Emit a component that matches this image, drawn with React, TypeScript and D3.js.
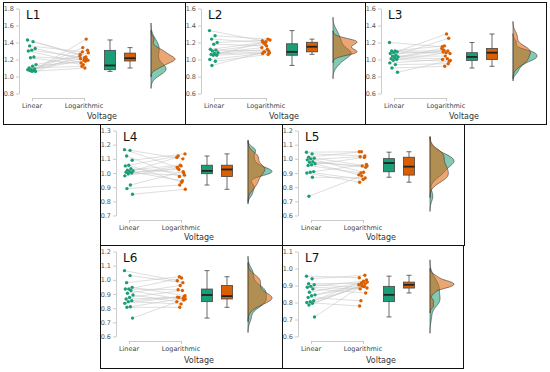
import React, { useRef, useEffect } from "react"
import * as d3 from "d3"

// panel names and the two conditions
const panelNames = ["L1", "L2", "L3", "L4", "L5", "L6", "L7"]
const groups = ["Linear", "Logarithmic"]

// paired measurements (linear[i] <-> logarithmic[i])
const linearL1 = [1.43, 1.41, 1.36, 1.33, 1.31, 1.30, 1.23, 1.22, 1.14, 1.12, 1.10, 1.09, 1.08, 1.08, 1.07, 1.07, 1.06, 1.06]
const logL1 = [1.26, 1.23, 1.29, 1.19, 1.22, 1.16, 1.20, 1.14, 1.24, 1.18, 1.12, 1.31, 1.19, 1.21, 1.44, 1.34, 1.28, 1.10]

const linearL2 = [1.34, 1.28, 1.24, 1.20, 1.18, 1.12, 1.11, 1.10, 1.08, 1.07, 1.06, 1.05, 1.05, 1.00, 0.98, 0.93]
const logL2 = [1.22, 1.24, 1.20, 1.23, 1.16, 1.20, 1.10, 1.18, 1.14, 1.12, 1.09, 1.08, 1.21, 1.07, 1.06, 1.09]

const linearL3 = [1.20, 1.10, 1.10, 1.09, 1.08, 1.07, 1.05, 1.04, 1.03, 1.02, 1.01, 1.00, 0.99, 0.96, 0.94, 0.90, 0.85]
const logL3 = [1.15, 1.10, 1.16, 1.07, 1.30, 1.09, 1.25, 1.04, 1.13, 1.01, 1.11, 0.98, 1.08, 1.00, 0.95, 0.92, 0.99]

const linearL4 = [1.165, 1.16, 1.12, 1.09, 1.055, 1.05, 1.03, 1.02, 1.015, 1.01, 1.005, 1.0, 0.995, 0.98, 0.915, 0.89, 0.85]
const logL4 = [1.04, 1.10, 0.975, 1.135, 0.935, 1.12, 1.00, 1.055, 1.11, 0.945, 1.025, 0.985, 1.05, 1.035, 1.01, 0.915, 0.885]

const linearL5 = [1.047, 1.035, 1.012, 1.005, 1.0, 0.993, 0.98, 0.976, 0.965, 0.958, 0.953, 0.91, 0.905, 0.90, 0.87, 0.736]
const logL5 = [1.05, 1.02, 1.05, 0.95, 0.905, 1.015, 0.94, 0.95, 0.887, 1.01, 0.90, 0.96, 0.855, 0.835, 0.865, 0.88]

const linearL6 = [1.065, 1.03, 0.98, 0.947, 0.935, 0.935, 0.925, 0.905, 0.893, 0.876, 0.865, 0.853, 0.846, 0.834, 0.81, 0.806, 0.73]
const logL6 = [0.994, 0.98, 1.022, 0.888, 1.013, 0.93, 0.858, 0.96, 0.846, 0.925, 0.876, 0.885, 0.83, 0.878, 0.87, 0.806, 0.865]

const linearL7 = [0.955, 0.94, 0.91, 0.905, 0.895, 0.89, 0.88, 0.86, 0.845, 0.84, 0.83, 0.81, 0.805, 0.80, 0.795, 0.785, 0.715]
const logL7 = [0.946, 0.96, 0.913, 0.885, 0.925, 0.88, 0.856, 0.917, 0.904, 0.894, 0.81, 0.933, 0.895, 0.779, 0.91, 0.90, 0.92]

const linearValues = [linearL1, linearL2, linearL3, linearL4, linearL5, linearL6, linearL7]
const logValues = [logL1, logL2, logL3, logL4, logL5, logL6, logL7]

// y axis tick labels per panel
const ticksL1 = [0.8, 1.0, 1.2, 1.4, 1.6, 1.8]
const ticksL2 = [0.6, 0.8, 1.0, 1.2, 1.4, 1.6]
const ticksL3 = [0.6, 0.8, 1.0, 1.2, 1.4, 1.6]
const ticksL4 = [0.7, 0.8, 0.9, 1.0, 1.1, 1.2, 1.3]
const ticksL5 = [0.6, 0.7, 0.8, 0.9, 1.0, 1.1, 1.2]
const ticksL6 = [0.6, 0.7, 0.8, 0.9, 1.0, 1.1, 1.2]
const ticksL7 = [0.6, 0.7, 0.8, 0.9, 1.0, 1.1]
const yTicks = [ticksL1, ticksL2, ticksL3, ticksL4, ticksL5, ticksL6, ticksL7]

// panel frames: x, y, width, height
const frames = [
    [3, 2, 182, 122], [185, 2, 180, 122], [365, 2, 181, 122],
    [100, 124, 182, 121], [282, 124, 182, 121],
    [100, 245, 182, 123], [282, 245, 181, 123]
]

const GREEN = "#1b9e77"
const ORANGE = "#d95f02"
const FONT = "DejaVu Sans, sans-serif"

function bandwidth(v) {
    const s = v.slice().sort(d3.ascending)
    const sd = d3.deviation(s)
    const iqr = (d3.quantile(s, 0.75) - d3.quantile(s, 0.25)) / 1.34
    let lo = Math.min(sd, iqr)
    if (!lo) lo = sd || 0.01
    return 0.9 * lo * Math.pow(s.length, -0.2)
}

function kde(v) {
    const bw = bandwidth(v)
    const lo = d3.min(v) - 3 * bw, hi = d3.max(v) + 3 * bw
    const n = 150
    const out = []
    for (let k = 0; k <= n; k++) {
        const t = lo + (hi - lo) * k / n
        const dens = d3.mean(v, x => Math.exp(-0.5 * ((t - x) / bw) ** 2)) / (bw * Math.sqrt(2 * Math.PI))
        out.push([t, dens])
    }
    return out
}

function boxStats(v) {
    const s = v.slice().sort(d3.ascending)
    const q1 = d3.quantile(s, 0.25), med = d3.quantile(s, 0.5), q3 = d3.quantile(s, 0.75)
    const iqr = q3 - q1
    const lo = d3.min(s.filter(x => x >= q1 - 1.5 * iqr))
    const hi = d3.max(s.filter(x => x <= q3 + 1.5 * iqr))
    return { q1, med, q3, lo, hi }
}

export default function App() {
    const svgRef = useRef()

    useEffect(() => {
        const svg = d3.select(svgRef.current)
        svg.selectAll("*").remove()

        panelNames.forEach((name, p) => {
            const [fx, fy, fw, fh] = frames[p]
            const g = svg.append("g").attr("transform", `translate(${fx},${fy})`)
            const axisX = 16
            const ticks = yTicks[p]
            const y = d3.scaleLinear().domain([ticks[0], ticks[ticks.length - 1]]).range([91.5, 6.5])
            const x = d3.scalePoint().domain(groups).range([axisX + 13, axisX + 65])
            const lin = linearValues[p], lg = logValues[p]

            // y axis
            const ya = g.append("g").attr("transform", `translate(${axisX},0)`)
                .call(d3.axisLeft(y).tickValues(ticks).tickFormat(d3.format(".1f")).tickSize(3).tickSizeOuter(0).tickPadding(2))
            ya.selectAll("path,line").attr("stroke", "#b5b5b5").attr("stroke-width", 0.7)
            ya.selectAll("text").style("fill", "#555").attr("font-size", 6.5).attr("font-family", FONT)

            // x bracket axis (labels drawn separately)
            const xa = g.append("g").attr("transform", "translate(0,96)")
                .call(d3.axisBottom(x).tickSize(3).tickSizeOuter(0).tickFormat(() => ""))
            xa.selectAll("path,line").attr("stroke", "#b5b5b5").attr("stroke-width", 0.7)

            g.append("g").selectAll("text").data(groups).enter().append("text")
                .attr("x", d => x(d)).attr("y", 106)
                .attr("text-anchor", "middle")
                .attr("font-family", FONT).attr("font-size", 6.5).style("fill", "#444")
                .text(d => d)

            g.append("text")
                .attr("x", axisX + 83).attr("y", fh - 5.5)
                .attr("text-anchor", "middle")
                .attr("font-family", FONT).attr("font-size", 8).style("fill", "#333")
                .text("Voltage")

            g.append("text")
                .attr("x", axisX + 7).attr("y", 16.5)
                .attr("font-family", FONT).attr("font-size", 12).style("fill", "#111")
                .text(name)

            // small deterministic spread for the dots
            const jit = i => (((i * 0.618034) % 1) - 0.5) * 9
            const xl = i => x("Linear") + jit(i)
            const xg = i => x("Logarithmic") + jit(i + 5)

            g.append("g").selectAll("line").data(lin).enter().append("line")
                .attr("x1", (d, i) => xl(i)).attr("y1", d => y(d))
                .attr("x2", (d, i) => xg(i)).attr("y2", (d, i) => y(lg[i]))
                .attr("stroke", "#c8c8c8").attr("stroke-width", 0.6)

            g.append("g").selectAll("circle").data(lin).enter().append("circle")
                .attr("cx", (d, i) => xl(i)).attr("cy", d => y(d)).attr("r", 1.7).attr("fill", GREEN)
            g.append("g").selectAll("circle").data(lg).enter().append("circle")
                .attr("cx", (d, i) => xg(i)).attr("cy", d => y(d)).attr("r", 1.7).attr("fill", ORANGE)

            // box plots
            const bw = 11
            ;[[lin, GREEN, axisX + 91], [lg, ORANGE, axisX + 111]].forEach(([vals, col, cx]) => {
                const s = boxStats(vals)
                const b = g.append("g")
                b.append("line").attr("x1", cx).attr("x2", cx).attr("y1", y(s.lo)).attr("y2", y(s.hi))
                    .attr("stroke", "#444").attr("stroke-width", 0.8)
                ;[s.lo, s.hi].forEach(v => b.append("line")
                    .attr("x1", cx - 2.5).attr("x2", cx + 2.5).attr("y1", y(v)).attr("y2", y(v))
                    .attr("stroke", "#444").attr("stroke-width", 0.8))
                b.append("rect").attr("x", cx - bw / 2).attr("width", bw)
                    .attr("y", y(s.q3)).attr("height", y(s.q1) - y(s.q3))
                    .attr("fill", col).attr("stroke", "#444").attr("stroke-width", 0.8)
                b.append("line").attr("x1", cx - bw / 2).attr("x2", cx + bw / 2)
                    .attr("y1", y(s.med)).attr("y2", y(s.med))
                    .attr("stroke", "#222").attr("stroke-width", 1.8)
            })

            // half violins
            const base = axisX + 132
            const dl = kde(lin), dg = kde(lg)
            const maxD = d3.max([...dl, ...dg], d => d[1])
            const w = d3.scaleLinear().domain([0, maxD]).range([0, 24])
            const area = d3.area().x0(base).x1(d => base + w(d[1])).y(d => y(d[0]))
            ;[[dl, GREEN], [dg, ORANGE]].forEach(([dd, col]) => {
                g.append("path").datum(dd).attr("d", area)
                    .attr("fill", col).attr("fill-opacity", 0.55)
                    .attr("stroke", "#333").attr("stroke-width", 0.6)
            })

            // frame
            svg.append("rect")
                .attr("x", fx + 0.5).attr("y", fy + 0.5).attr("width", fw).attr("height", fh)
                .attr("fill", "none").attr("stroke", "#111").attr("stroke-width", 1)
        })
    }, [])

    return (
        <svg ref={svgRef} width={550} height={372}
            style={{ position: "absolute", left: 0, top: 0, background: "#fff" }}></svg>
    )
}
